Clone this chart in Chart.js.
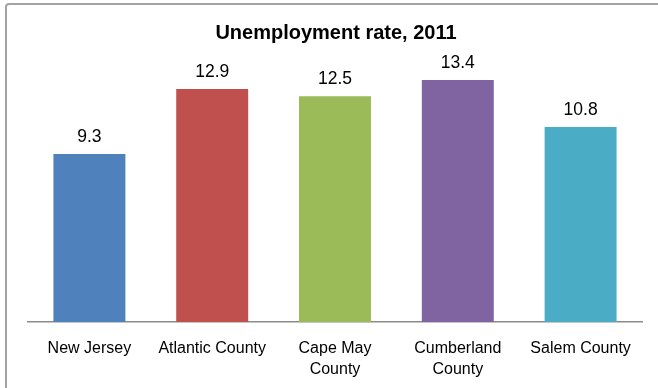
<!DOCTYPE html>
<html>
<head>
<meta charset="utf-8">
<script src="https://cdn.jsdelivr.net/npm/chart.js@4"></script>
<style>
  html, body { margin:0; padding:0; background:#fff; overflow:hidden; }
  #wrap { position:relative; width:658px; height:388px; }
  #frame { position:absolute; left:5px; top:3px; width:720px; height:430px; border:2px solid #a3a3a3; border-radius:4px; box-sizing:border-box; }
  canvas { position:absolute; left:0; top:0; }
</style>
</head>
<body>
<div id="wrap">
  <div id="frame"></div>
  <canvas id="chart" width="658" height="388"></canvas>
</div>
<script>
// ---- data ----
const CATEGORIES = [['New Jersey'], ['Atlantic County'], ['Cape May', 'County'], ['Cumberland', 'County'], ['Salem County']];
const RATES = [9.3, 12.9, 12.5, 13.4, 10.8];
const BAR_COLORS = ['#4F81BD', '#C0504D', '#9BBB59', '#8064A2', '#4BACC6'];
const TITLE = 'Unemployment rate, 2011';

const FONT = "'Liberation Sans', Arial, sans-serif";

// title + value labels drawn on top of the chart
const labelPlugin = {
  id: 'labels',
  afterDatasetsDraw(chart) {
    const ctx = chart.ctx;
    ctx.save();
    ctx.fillStyle = '#000';
    ctx.textAlign = 'center';
    ctx.textBaseline = 'middle';
    ctx.font = 'bold 20px ' + FONT;
    ctx.fillText(TITLE, 336, 33);
    ctx.font = '17.5px ' + FONT;
    chart.getDatasetMeta(0).data.forEach((bar, i) => {
      ctx.fillText(RATES[i].toFixed(1), bar.x, bar.y - 17);
    });
    ctx.restore();
  }
};

new Chart(document.getElementById('chart'), {
  type: 'bar',
  data: {
    labels: CATEGORIES,
    datasets: [{
      data: RATES,
      backgroundColor: BAR_COLORS,
      borderWidth: 0,
      barPercentage: 0.586,
      categoryPercentage: 1
    }]
  },
  options: {
    responsive: false,
    animation: false,
    layout: { padding: { left: 28, right: 16, top: 33, bottom: 0 } },
    plugins: { legend: { display: false }, title: { display: false }, tooltip: { enabled: false } },
    scales: {
      y: { display: false, min: 0, max: 16 },
      x: {
        grid: { display: false, drawTicks: false },
        border: { display: true, color: '#8c8c8c', width: 1.5 },
        ticks: { color: '#000', padding: 15.5, maxRotation: 0, font: { family: FONT, size: 16, lineHeight: 1.35 } },
        afterFit(scale) { scale.height = 66; }
      }
    }
  },
  plugins: [labelPlugin]
});
</script>
</body>
</html>
